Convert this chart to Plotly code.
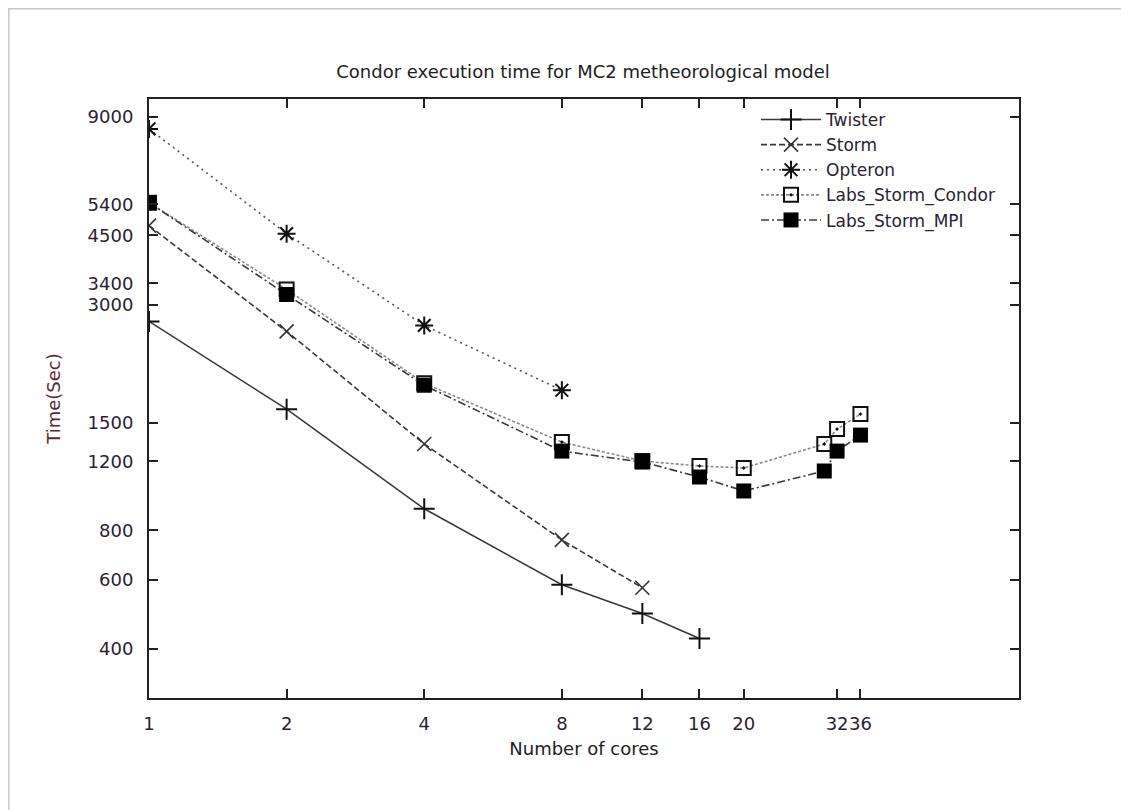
import plotly.graph_objects as go
import math

# ---- data ----
twister_x = [1, 2, 4, 8, 12, 16]
twister_y = [2720, 1627, 908, 582, 492, 425]

storm_x = [1, 2, 4, 8, 12]
storm_y = [4764, 2566, 1327, 757, 572]

opteron_x = [1, 2, 4, 8]
opteron_y = [8393, 4547, 2657, 1818]

condor_x = [1, 2, 4, 8, 12, 16, 20, 30, 32, 36]
condor_y = [5450, 3280, 1894, 1342, 1201, 1167, 1153, 1327, 1448, 1581]

mpi_x = [1, 2, 4, 8, 12, 16, 20, 30, 32, 36]
mpi_y = [5450, 3184, 1872, 1273, 1194, 1094, 1008, 1133, 1273, 1398]

x_ticks = [1, 2, 4, 8, 12, 16, 20, 32, 36]
x_tick_text = ["1", "2", "4", "8", "12", "16", "20", "32", "36"]
y_ticks = [400, 600, 800, 1200, 1500, 3000, 3400, 4500, 5400, 9000]
y_tick_text = ["400", "600", "800", "1200", "1500", "3000", "3400", "4500", "5400", "9000"]

FONT = "DejaVu Sans"
TXT = "#2b2233"
LINE = "#3a3a3a"

fig = go.Figure()

fig.add_trace(go.Scatter(
    x=twister_x, y=twister_y, name="Twister", mode="lines+markers",
    line=dict(color=LINE, width=1.6, dash="solid"),
    marker=dict(symbol="cross-thin-open", size=15, color="#111",
                line=dict(color="#111", width=2))))

fig.add_trace(go.Scatter(
    x=storm_x, y=storm_y, name="Storm", mode="lines+markers",
    line=dict(color=LINE, width=1.6, dash="6px,3px"),
    marker=dict(symbol="x-thin-open", size=14, color="#333",
                line=dict(color="#333", width=1.6))))

fig.add_trace(go.Scatter(
    x=opteron_x, y=opteron_y, name="Opteron", mode="lines+markers",
    line=dict(color="#555", width=1.6, dash="2px,4px"),
    marker=dict(symbol="asterisk-open", size=15, color="#111",
                line=dict(color="#111", width=2))))

fig.add_trace(go.Scatter(
    x=condor_x, y=condor_y, name="Labs_Storm_Condor", mode="lines+markers",
    line=dict(color="#8a8a8a", width=1.6, dash="3px,2px"),
    marker=dict(symbol="square-open-dot", size=14, color="#111",
                line=dict(color="#111", width=2))))

fig.add_trace(go.Scatter(
    x=mpi_x, y=mpi_y, name="Labs_Storm_MPI", mode="lines+markers",
    line=dict(color=LINE, width=1.6, dash="8px,3px,2px,3px"),
    marker=dict(symbol="square", size=15, color="#000",
                line=dict(color="#000", width=0))))

# page body adds an 8px offset; margins chosen so the plot box lands where it should
L, R, T, B = 141, 118, 91, 120
W, H = 1129, 810
pw, ph = W - L - R, H - T - B

# light frame around the whole picture (paper coordinates)
fig.add_shape(type="rect", xref="paper", yref="paper",
              x0=(0.8 - L) / pw, x1=(1140 - L) / pw,
              y0=1 - (830 - T) / ph, y1=1 - (0.8 - T) / ph,
              line=dict(color="#c8c8c8", width=1.5), fillcolor="rgba(0,0,0,0)",
              layer="below")

fig.update_layout(
    width=W, height=H,
    margin=dict(l=L, r=R, t=T, b=B),
    paper_bgcolor="white", plot_bgcolor="white",
    font=dict(family=FONT, size=18, color=TXT),
    title=dict(text="Condor execution time for MC2 metheorological model",
               x=(583 - 8) / W, xanchor="center",
               y=1 - (72 - 8) / H, yanchor="middle",
               font=dict(family=FONT, size=18, color="#222")),
    showlegend=True,
    legend=dict(x=(1000 - 8 - L) / pw, xanchor="right", y=0.995, yanchor="top",
                bgcolor="rgba(0,0,0,0)", borderwidth=0,
                font=dict(family=FONT, size=17, color=TXT),
                tracegroupgap=0, itemwidth=60),
    xaxis=dict(type="log", range=[0, math.log10(80)],
               tickvals=x_ticks, ticktext=x_tick_text, tickangle=0,
               ticks="inside", ticklen=9, tickwidth=1.5, tickcolor="#222",
               ticklabelstandoff=8,
               showline=True, linecolor="#222", linewidth=2, mirror="allticks",
               showgrid=False, zeroline=False,
               tickfont=dict(family=FONT, size=18, color=TXT),
               title=dict(text="Number of cores", standoff=10,
                          font=dict(family=FONT, size=18, color="#222"))),
    yaxis=dict(type="log", range=[math.log10(300), 4],
               tickvals=y_ticks, ticktext=y_tick_text,
               ticks="inside", ticklen=9, tickwidth=1.5, tickcolor="#222",
               ticklabelstandoff=10,
               showline=True, linecolor="#222", linewidth=2, mirror="allticks",
               showgrid=False, zeroline=False,
               tickfont=dict(family=FONT, size=18, color=TXT),
               title=dict(text="Time(Sec)", standoff=22,
                          font=dict(family=FONT, size=18, color="#5a2a30"))),
)

fig.write_html("out.html")
